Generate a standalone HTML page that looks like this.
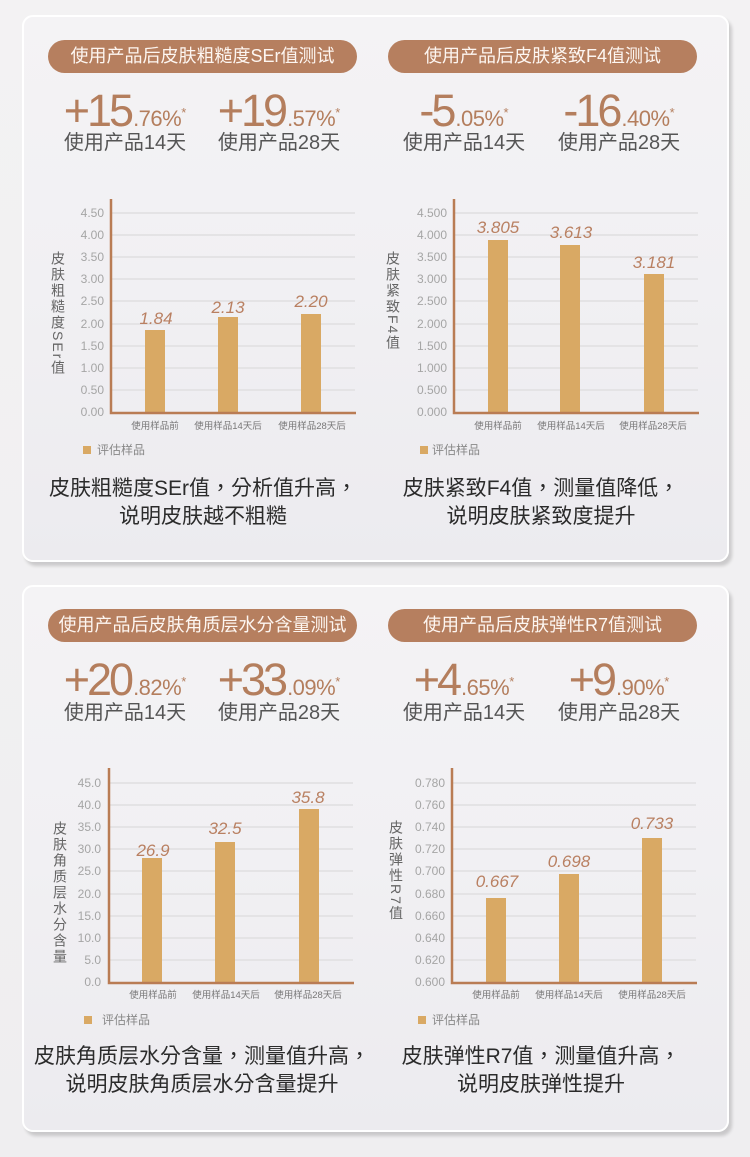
<!DOCTYPE html>
<html><head><meta charset="utf-8">
<style>
*{margin:0;padding:0;box-sizing:border-box}
html,body{width:750px;height:1157px;overflow:hidden}
body{background:linear-gradient(180deg,#f3f2f3,#efeef0);font-family:"Liberation Sans","Noto Sans CJK SC",sans-serif;position:relative}
.card{position:absolute;left:22px;width:707px;height:547px;border:2px solid #fff;border-radius:11px;background:linear-gradient(180deg,#f4f3f5 0%,#f1f0f3 50%,#ecebef 100%);box-shadow:3px 4px 3px rgba(0,0,0,0.16)}
.pill{position:absolute;height:33px;width:309px;border-radius:17px;background:#b67f5f;color:#fdf6f1;font-size:18px;line-height:33px;text-align:center;white-space:nowrap}
.num{position:absolute;width:200px;text-align:center;white-space:nowrap;color:#b47e5d;font-size:45px;line-height:44px}
.num b{font-weight:normal;letter-spacing:-3px}
.num i{font-style:normal;font-size:22px;letter-spacing:-0.5px;margin-left:2px}
.num u{text-decoration:none;font-size:13px;vertical-align:9px}
.desc{position:absolute;width:200px;text-align:center;font-size:20px;line-height:20px;color:#555;white-space:nowrap}
.ytitle{position:absolute;writing-mode:vertical-rl;text-orientation:mixed;font-size:14px;line-height:14px;letter-spacing:2px;color:#666;white-space:nowrap}
.concl{position:absolute;width:360px;text-align:center;font-family:"Liberation Sans","Noto Sans CJK TC",sans-serif;font-size:21px;line-height:28px;color:#2b2b2b;white-space:nowrap}
svg{position:absolute;left:0;top:0}
</style></head>
<body>
<div class="card" style="top:15px"></div>
<div class="card" style="top:585px"></div>

<div class="pill" style="left:48px;top:40px">使用产品后皮肤粗糙度SEr值测试</div>
<div class="pill" style="left:388px;top:40px">使用产品后皮肤紧致F4值测试</div>
<div class="pill" style="left:48px;top:609px">使用产品后皮肤角质层水分含量测试</div>
<div class="pill" style="left:388px;top:609px">使用产品后皮肤弹性R7值测试</div>

<div class="num" style="left:25px;top:89px"><b>+15</b><i>.76%</i><u>*</u></div>
<div class="num" style="left:179px;top:89px"><b>+19</b><i>.57%</i><u>*</u></div>
<div class="num" style="left:364px;top:89px"><b>-5</b><i>.05%</i><u>*</u></div>
<div class="num" style="left:519px;top:89px"><b>-16</b><i>.40%</i><u>*</u></div>
<div class="desc" style="left:25px;top:133px">使用产品14天</div>
<div class="desc" style="left:179px;top:133px">使用产品28天</div>
<div class="desc" style="left:364px;top:133px">使用产品14天</div>
<div class="desc" style="left:519px;top:133px">使用产品28天</div>

<div class="num" style="left:25px;top:658px"><b>+20</b><i>.82%</i><u>*</u></div>
<div class="num" style="left:179px;top:658px"><b>+33</b><i>.09%</i><u>*</u></div>
<div class="num" style="left:364px;top:658px"><b>+4</b><i>.65%</i><u>*</u></div>
<div class="num" style="left:519px;top:658px"><b>+9</b><i>.90%</i><u>*</u></div>
<div class="desc" style="left:25px;top:703px">使用产品14天</div>
<div class="desc" style="left:179px;top:703px">使用产品28天</div>
<div class="desc" style="left:364px;top:703px">使用产品14天</div>
<div class="desc" style="left:519px;top:703px">使用产品28天</div>

<div class="ytitle" style="left:51px;top:251px">皮肤粗糙度SEr值</div>
<div class="ytitle" style="left:386px;top:251px">皮肤紧致F4值</div>
<div class="ytitle" style="left:53px;top:821px">皮肤角质层水分含量</div>
<div class="ytitle" style="left:389px;top:820px">皮肤弹性R7值</div>

<div class="concl" style="left:23px;top:475px">皮肤粗糙度SEr值，分析值升高，<br>说明皮肤越不粗糙</div>
<div class="concl" style="left:361px;top:475px">皮肤紧致F4值，测量值降低，<br>说明皮肤紧致度提升</div>
<div class="concl" style="left:22px;top:1043px">皮肤角质层水分含量，测量值升高，<br>说明皮肤角质层水分含量提升</div>
<div class="concl" style="left:361px;top:1043px">皮肤弹性R7值，测量值升高，<br>说明皮肤弹性提升</div>

<svg width="750" height="1157" viewBox="0 0 750 1157" font-family="Liberation Sans, Noto Sans CJK SC, sans-serif">
<g stroke="#e4e3e5" stroke-width="2" fill="none">
<path d="M112 213H355M112 235H355M112 257H355M112 279H355M112 301H355M112 324H355M112 346H355M112 368H355M112 390H355"/>
<path d="M455 213H698M455 235H698M455 257H698M455 279H698M455 301H698M455 324H698M455 346H698M455 368H698M455 390H698"/>
<path d="M110 783H353M110 805H353M110 827H353M110 849H353M110 871H353M110 894H353M110 916H353M110 938H353M110 960H353"/>
<path d="M453 783H696M453 805H696M453 827H696M453 849H696M453 871H696M453 894H696M453 916H696M453 938H696M453 960H696"/>
</g>
<g fill="#d9a964">
<rect x="145" y="330" width="20" height="82"/><rect x="218" y="317" width="20" height="95"/><rect x="301" y="314" width="20" height="98"/>
<rect x="488" y="240" width="20" height="172"/><rect x="560" y="245" width="20" height="167"/><rect x="644" y="274" width="20" height="138"/>
<rect x="142" y="858" width="20" height="124"/><rect x="215" y="842" width="20" height="140"/><rect x="299" y="809" width="20" height="173"/>
<rect x="486" y="898" width="20" height="84"/><rect x="559" y="874" width="20" height="108"/><rect x="642" y="838" width="20" height="144"/>
<rect x="83" y="446" width="8" height="8"/><rect x="420" y="446" width="8" height="8"/>
<rect x="84" y="1016" width="8" height="8"/><rect x="418" y="1016" width="8" height="8"/>
</g>
<g stroke="#b97c54" stroke-width="2.5" fill="none">
<path d="M111 199V413H356"/><path d="M454 199V413H699"/>
<path d="M109 768V983H354"/><path d="M452 768V983H697"/>
</g>
<g fill="#a5a5a5" font-size="12" text-anchor="end">
<text x="104" y="416">0.00</text><text x="104" y="394">0.50</text><text x="104" y="372">1.00</text><text x="104" y="350">1.50</text><text x="104" y="328">2.00</text><text x="104" y="305">2.50</text><text x="104" y="283">3.00</text><text x="104" y="261">3.50</text><text x="104" y="239">4.00</text><text x="104" y="217">4.50</text>
<text x="447" y="416">0.000</text><text x="447" y="394">0.500</text><text x="447" y="372">1.000</text><text x="447" y="350">1.500</text><text x="447" y="328">2.000</text><text x="447" y="305">2.500</text><text x="447" y="283">3.000</text><text x="447" y="261">3.500</text><text x="447" y="239">4.000</text><text x="447" y="217">4.500</text>
<text x="101" y="986">0.0</text><text x="101" y="964">5.0</text><text x="101" y="942">10.0</text><text x="101" y="920">15.0</text><text x="101" y="898">20.0</text><text x="101" y="875">25.0</text><text x="101" y="853">30.0</text><text x="101" y="831">35.0</text><text x="101" y="809">40.0</text><text x="101" y="787">45.0</text>
<text x="445" y="986">0.600</text><text x="445" y="964">0.620</text><text x="445" y="942">0.640</text><text x="445" y="920">0.660</text><text x="445" y="898">0.680</text><text x="445" y="875">0.700</text><text x="445" y="853">0.720</text><text x="445" y="831">0.740</text><text x="445" y="809">0.760</text><text x="445" y="787">0.780</text>
</g>
<g fill="#b98062" font-size="17" font-style="italic" text-anchor="middle">
<text x="156" y="324">1.84</text><text x="228" y="313">2.13</text><text x="311" y="307">2.20</text>
<text x="498" y="233">3.805</text><text x="571" y="238">3.613</text><text x="654" y="268">3.181</text>
<text x="153" y="856">26.9</text><text x="225" y="834">32.5</text><text x="308" y="803">35.8</text>
<text x="497" y="887">0.667</text><text x="569" y="867">0.698</text><text x="652" y="829">0.733</text>
</g>
<g fill="#777" font-size="9.5" text-anchor="middle">
<text x="155" y="429">使用样品前</text><text x="228" y="429">使用样品14天后</text><text x="312" y="429">使用样品28天后</text>
<text x="498" y="429">使用样品前</text><text x="571" y="429">使用样品14天后</text><text x="653" y="429">使用样品28天后</text>
<text x="153" y="998">使用样品前</text><text x="226" y="998">使用样品14天后</text><text x="308" y="998">使用样品28天后</text>
<text x="496" y="998">使用样品前</text><text x="569" y="998">使用样品14天后</text><text x="652" y="998">使用样品28天后</text>
</g>
<g fill="#888" font-size="12">
<text x="97" y="454">评估样品</text><text x="432" y="454">评估样品</text>
<text x="102" y="1024">评估样品</text><text x="432" y="1024">评估样品</text>
</g>
</svg>
</body></html>
